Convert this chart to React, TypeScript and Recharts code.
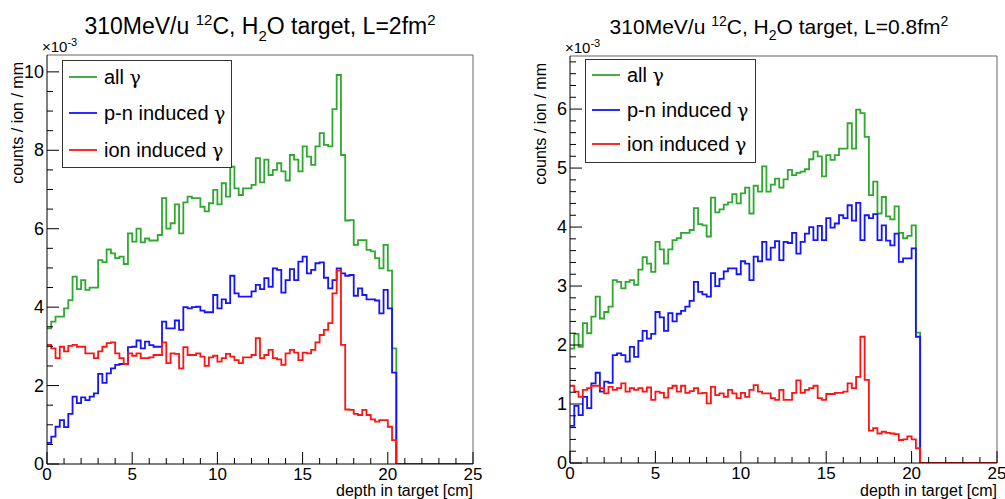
import React from "react";
import { LineChart, Line, XAxis, YAxis, ReferenceLine } from "recharts";

// depth bins: 100 bins of 0.25 cm from 0 to 25 cm, values in units of 1e-3 counts/ion/mm
const BIN_WIDTH = 0.25;

// 2 fm^2 panel, bins 0 .. 81 (0 - 20.5 cm)
const L2_ALL = [
  3.46, 3.63, 3.76, 3.76, 3.97, 4.18, 4.78, 4.46, 4.69, 4.44,
  4.5, 4.5, 5.2, 5.15, 5.47, 5.37, 5.25, 5.29, 5.1, 5.88,
  5.67, 6.0, 5.65, 5.75, 5.7, 5.7, 5.84, 6.78, 6.0, 6.14,
  6.62, 5.88, 6.67, 6.82, 6.78, 6.78, 6.56, 6.44, 6.65, 6.99,
  6.62, 7.16, 6.82, 7.58, 7.03, 6.86, 7.03, 7.03, 7.12, 7.8,
  7.18, 7.76, 7.37, 7.5, 7.67, 7.46, 7.23, 7.88, 7.76, 7.46,
  8.1, 7.84, 7.63, 8.1, 8.44, 8.14, 8.1, 9.05, 9.92, 7.88,
  6.21, 6.22, 5.59, 5.71, 5.71, 5.46, 5.42, 5.25, 4.99, 5.59,
  4.93, 2.95,
];
const L2_PN = [
  0.54, 0.7, 0.95, 1.12, 0.94, 1.28, 1.72, 1.55, 1.7, 1.63,
  1.72, 1.8, 2.3, 2.07, 2.31, 2.44, 2.53, 2.55, 2.55, 2.98,
  2.99, 3.15, 2.95, 3.12, 3.03, 2.99, 2.99, 3.63, 3.46, 3.46,
  3.66, 3.42, 4.0, 3.97, 4.0, 4.01, 3.91, 3.87, 3.87, 4.31,
  3.97, 4.2, 4.1, 4.8, 4.35, 4.27, 4.27, 4.27, 4.4, 4.57,
  4.46, 4.74, 4.52, 4.99, 4.95, 4.37, 4.69, 4.97, 4.69, 5.16,
  5.29, 4.86, 4.95, 5.12, 5.14, 4.75, 4.48, 4.69, 4.99, 4.86,
  4.8, 4.82, 4.29, 4.48, 4.31, 4.2, 4.2, 4.17, 3.84, 4.44,
  3.97, 2.33,
];
const L2_ION = [
  3.04, 2.95, 2.7, 2.99, 2.87, 3.01, 3.04, 2.99, 2.99, 2.82,
  2.82, 2.7, 2.87, 2.99, 3.08, 3.1, 2.82, 2.7, 2.55, 2.82,
  2.76, 2.82, 2.7, 2.7, 2.72, 2.78, 2.78, 3.1, 2.57, 2.82,
  2.81, 2.44, 2.98, 2.78, 2.78, 2.82, 2.74, 2.5, 2.72, 2.76,
  2.61, 2.7, 2.81, 2.74, 2.65, 2.57, 2.72, 2.72, 2.78, 3.21,
  2.7, 2.78, 2.91, 2.7, 2.67, 2.53, 2.82, 2.91, 2.84, 2.65,
  2.84, 2.82, 2.91, 3.1, 3.29, 3.42, 3.59, 4.35, 4.93, 3.04,
  1.39, 1.38, 1.28, 1.25, 1.38, 1.25, 1.14, 1.08, 1.12, 1.12,
  0.95, 0.61,
];

// 0.8 fm^2 panel
const L08_ALL = [
  1.94, 2.19, 1.97, 2.37, 2.2, 2.48, 2.82, 2.45, 2.56, 2.65,
  3.1, 3.07, 2.96, 3.07, 3.1, 3.02, 3.28, 3.49, 3.38, 3.24,
  3.75, 3.62, 3.38, 3.62, 3.78, 3.81, 3.9, 3.9, 3.95, 4.32,
  4.05, 4.03, 3.84, 4.5, 4.25, 4.3, 4.38, 4.42, 4.56, 4.4,
  4.57, 4.67, 4.23, 4.7, 4.6, 5.03, 4.6, 4.72, 4.82, 4.67,
  4.81, 4.97, 4.88, 4.92, 4.94, 4.98, 5.15, 5.28, 5.2, 4.86,
  5.22, 5.14, 5.22, 5.33, 5.33, 5.76, 5.33, 5.99, 5.93, 5.53,
  4.54, 4.77, 4.23, 4.51, 4.18, 4.13, 4.35, 3.9, 3.81, 3.85,
  4.03, 2.21,
];
const L08_PN = [
  0.63, 0.97, 0.81, 1.12, 0.93, 1.35, 1.53, 1.21, 1.38, 1.36,
  1.83, 1.86, 1.83, 1.72, 1.97, 1.8, 2.07, 2.24, 2.11, 2.19,
  2.56, 2.47, 2.24, 2.54, 2.4, 2.53, 2.58, 2.65, 2.75, 3.07,
  2.9, 2.86, 2.82, 3.22, 3.0, 3.12, 3.25, 3.3, 3.3, 3.2,
  3.42, 3.38, 3.1, 3.5, 3.42, 3.75, 3.45, 3.65, 3.76, 3.44,
  3.75, 3.73, 3.9, 3.55, 3.75, 3.89, 4.0, 3.78, 4.02, 3.78,
  4.15, 3.99, 4.06, 4.2, 4.15, 4.37, 4.11, 4.41, 3.78, 4.2,
  4.15, 4.22, 3.78, 4.03, 3.77, 3.69, 3.89, 3.41, 3.47, 3.47,
  3.64, 2.14,
];
const L08_ION = [
  1.31, 1.21, 1.12, 1.24, 1.27, 1.31, 1.31, 1.27, 1.18, 1.29,
  1.24, 1.27, 1.35, 1.21, 1.27, 1.24, 1.27, 1.21, 1.28, 1.07,
  1.21, 1.19, 1.11, 1.27, 1.31, 1.21, 1.31, 1.19, 1.22, 1.27,
  1.18, 1.19, 1.01, 1.29, 1.15, 1.18, 1.12, 1.24, 1.18, 1.1,
  1.19, 1.12, 1.24, 1.32, 1.21, 1.18, 1.18, 1.1, 1.07, 1.24,
  1.07, 1.07, 1.19, 1.4, 1.19, 1.24, 1.27, 1.31, 1.1, 1.07,
  1.17, 1.17, 1.19, 1.19, 1.21, 1.35, 1.27, 1.46, 2.14, 1.41,
  0.55, 0.59, 0.5, 0.53, 0.51, 0.5, 0.49, 0.39, 0.4, 0.45,
  0.4, 0.25,
];

// bins 82 .. 99 (20.5 - 25 cm) are empty
const EMPTY_TAIL = [0, 0, 0, 0, 0, 0, 0, 0, 0, 0, 0, 0, 0, 0, 0, 0, 0, 0];

const X_TICKS = [0, 1, 2, 3, 4, 5, 6, 7, 8, 9, 10, 11, 12, 13, 14, 15, 16, 17, 18, 19, 20, 21, 22, 23, 24, 25];
const Y_TICKS_L2 = [0, 0.5, 1, 1.5, 2, 2.5, 3, 3.5, 4, 4.5, 5, 5.5, 6, 6.5, 7, 7.5, 8, 8.5, 9, 9.5, 10];
const Y_TICKS_L08 = [
  0, 0.2, 0.4, 0.6, 0.8, 1, 1.2, 1.4, 1.6, 1.8, 2, 2.2, 2.4, 2.6, 2.8, 3, 3.2, 3.4, 3.6, 3.8,
  4, 4.2, 4.4, 4.6, 4.8, 5, 5.2, 5.4, 5.6, 5.8, 6, 6.2, 6.4, 6.6, 6.8,
];

const GREEN = "#2fa82f";
const BLUE = "#1414ff";
const RED = "#ff1414";
const FONT = "'Liberation Sans', Arial, Helvetica, sans-serif";
const GREEK = "'DejaVu Serif', serif";
const H = 499;

const buildData = (all: number[], pn: number[], ion: number[]) => {
  const a = all.concat(EMPTY_TAIL);
  const p = pn.concat(EMPTY_TAIL);
  const r = ion.concat(EMPTY_TAIL);
  const rows = a.map((_, i) => ({ x: i * BIN_WIDTH, all: a[i], pn: p[i], ion: r[i] }));
  // closing edge of the last bin
  const last = a.length - 1;
  rows.push({ x: a.length * BIN_WIDTH, all: a[last], pn: p[last], ion: r[last] });
  return rows;
};

const XTick = (props: any) => {
  const { x, y, payload } = props;
  const v = payload.value;
  const major = v % 5 === 0;
  return (
    <g>
      <line x1={x} x2={x} y1={y} y2={y - (major ? 12 : 6)} stroke="#000" strokeWidth={1} />
      {major && (
        <text x={x} y={y + 16} textAnchor="middle" fontSize={17} fontFamily={FONT} fill="#000">
          {v}
        </text>
      )}
    </g>
  );
};

const makeYTick = (isMajor: (v: number) => boolean) => (props: any) => {
  const { x, y, payload } = props;
  const v = payload.value;
  const major = isMajor(v);
  return (
    <g>
      <line x1={x} x2={x + (major ? 12 : 6)} y1={y} y2={y} stroke="#000" strokeWidth={1} />
      {major && (
        <text x={x - 3} y={y + 6} textAnchor="end" fontSize={18} fontFamily={FONT} fill="#000">
          {v}
        </text>
      )}
    </g>
  );
};

interface PanelProps {
  left: number;
  width: number;
  plot: { l: number; r: number; t: number; b: number };
  yMax: number;
  yTicks: number[];
  isMajorY: (v: number) => boolean;
  all: number[];
  pn: number[];
  ion: number[];
}

const Y_AXIS_W = 40;
const X_AXIS_H = 30;

const Panel: React.FC<PanelProps> = ({ left, width, plot, yMax, yTicks, isMajorY, all, pn, ion }) => {
  const data = buildData(all, pn, ion);
  const margin = {
    left: plot.l - left - Y_AXIS_W,
    right: left + width - plot.r,
    top: plot.t,
    bottom: H - plot.b - X_AXIS_H,
  };
  return (
    <div style={{ position: "absolute", left, top: 0 }}>
      <LineChart width={width} height={H} data={data} margin={margin}>
        <XAxis
          dataKey="x"
          type="number"
          domain={[0, 25]}
          ticks={X_TICKS}
          interval={0}
          height={X_AXIS_H}
          tickSize={0}
          tickMargin={0}
          tickLine={false}
          tick={<XTick />}
          axisLine={{ stroke: "#000" }}
          allowDataOverflow
        />
        <YAxis
          type="number"
          domain={[0, yMax]}
          ticks={yTicks}
          interval={0}
          width={Y_AXIS_W}
          tickSize={0}
          tickMargin={0}
          tickLine={false}
          tick={makeYTick(isMajorY)}
          axisLine={{ stroke: "#000" }}
          allowDataOverflow
        />
        <ReferenceLine x={25} stroke="#666" strokeWidth={1} />
        <ReferenceLine y={yMax} stroke="#666" strokeWidth={1} />
        <Line type="stepAfter" dataKey="all" stroke={GREEN} strokeWidth={1.8} dot={false} isAnimationActive={false} />
        <Line type="stepAfter" dataKey="pn" stroke={BLUE} strokeWidth={1.8} dot={false} isAnimationActive={false} />
        <Line type="stepAfter" dataKey="ion" stroke={RED} strokeWidth={1.8} dot={false} isAnimationActive={false} />
      </LineChart>
    </div>
  );
};

const LEGEND = [
  { label: "all ", color: GREEN },
  { label: "p-n induced ", color: BLUE },
  { label: "ion induced ", color: RED },
];

const LegendBox = ({ x, y, w, h, rowY }: { x: number; y: number; w: number; h: number; rowY: number[] }) => (
  <g>
    <rect x={x + 0.5} y={y + 0.5} width={w} height={h} fill="#fff" stroke="#333" strokeWidth={1} />
    {LEGEND.map((item, i) => (
      <g key={item.label}>
        <line x1={x + 7} x2={x + 35} y1={rowY[i]} y2={rowY[i]} stroke={item.color} strokeWidth={1.8} />
        <text x={x + 42} y={rowY[i] + 7} fontSize={20} fontFamily={FONT} fill="#000">
          {item.label}
          <tspan fontFamily={GREEK} fontSize={19}>γ</tspan>
        </text>
      </g>
    ))}
  </g>
);

const Title = ({ cx, lValue, size }: { cx: number; lValue: string; size: number }) => {
  const small = Math.round(size * 0.65);
  const up = Math.round(size * 0.4);
  const down = Math.round(size * 0.3);
  return (
    <text x={cx} y={34} textAnchor="middle" fontSize={size} fontFamily={FONT} fill="#000">
      310MeV/u{" "}
      <tspan fontSize={small} dy={-up}>12</tspan>
      <tspan dy={up}>C, H</tspan>
      <tspan fontSize={small} dy={down}>2</tspan>
      <tspan dy={-down}>O target, L={lValue}fm</tspan>
      <tspan fontSize={small} dy={-up}>2</tspan>
    </text>
  );
};

const AxisTexts = ({ plotL, plotR, plotT }: { plotL: number; plotR: number; plotT: number }) => (
  <g fontFamily={FONT} fill="#000">
    <text x={plotL - 5} y={plotT - 3} fontSize={15}>
      ×10<tspan fontSize={11} dy={-6}>-3</tspan>
    </text>
    <text transform="rotate(-90)" x={-(plotT + 7)} y={plotL - 24} textAnchor="end" fontSize={16}>
      counts / ion / mm
    </text>
    <text x={plotR} y={496} textAnchor="end" fontSize={16}>
      depth in target [cm]
    </text>
  </g>
);

export default function App() {
  const leftPlot = { l: 47, r: 473, t: 55, b: 464 };
  const rightPlot = { l: 570, r: 997, t: 56, b: 463 };
  return (
    <div style={{ position: "fixed", left: 0, top: 0, width: 1005, height: H, background: "#fff", overflow: "hidden" }}>
      <Panel
        left={0}
        width={500}
        plot={leftPlot}
        yMax={10.43}
        yTicks={Y_TICKS_L2}
        isMajorY={(v) => v % 2 === 0}
        all={L2_ALL}
        pn={L2_PN}
        ion={L2_ION}
      />
      <Panel
        left={500}
        width={505}
        plot={rightPlot}
        yMax={6.9}
        yTicks={Y_TICKS_L08}
        isMajorY={(v) => Number.isInteger(v)}
        all={L08_ALL}
        pn={L08_PN}
        ion={L08_ION}
      />
      <svg width={1005} height={H} style={{ position: "absolute", left: 0, top: 0, pointerEvents: "none" }}>
        <Title cx={260} lValue="2" size={23} />
        <Title cx={779} lValue="0.8" size={21} />
        <AxisTexts plotL={leftPlot.l} plotR={leftPlot.r} plotT={leftPlot.t} />
        <AxisTexts plotL={rightPlot.l} plotR={rightPlot.r} plotT={rightPlot.t} />
        <LegendBox x={62} y={60} w={169} h={107} rowY={[77, 113, 150]} />
        <LegendBox x={585} y={59} w={170} h={103} rowY={[75, 110, 144]} />
      </svg>
    </div>
  );
}
